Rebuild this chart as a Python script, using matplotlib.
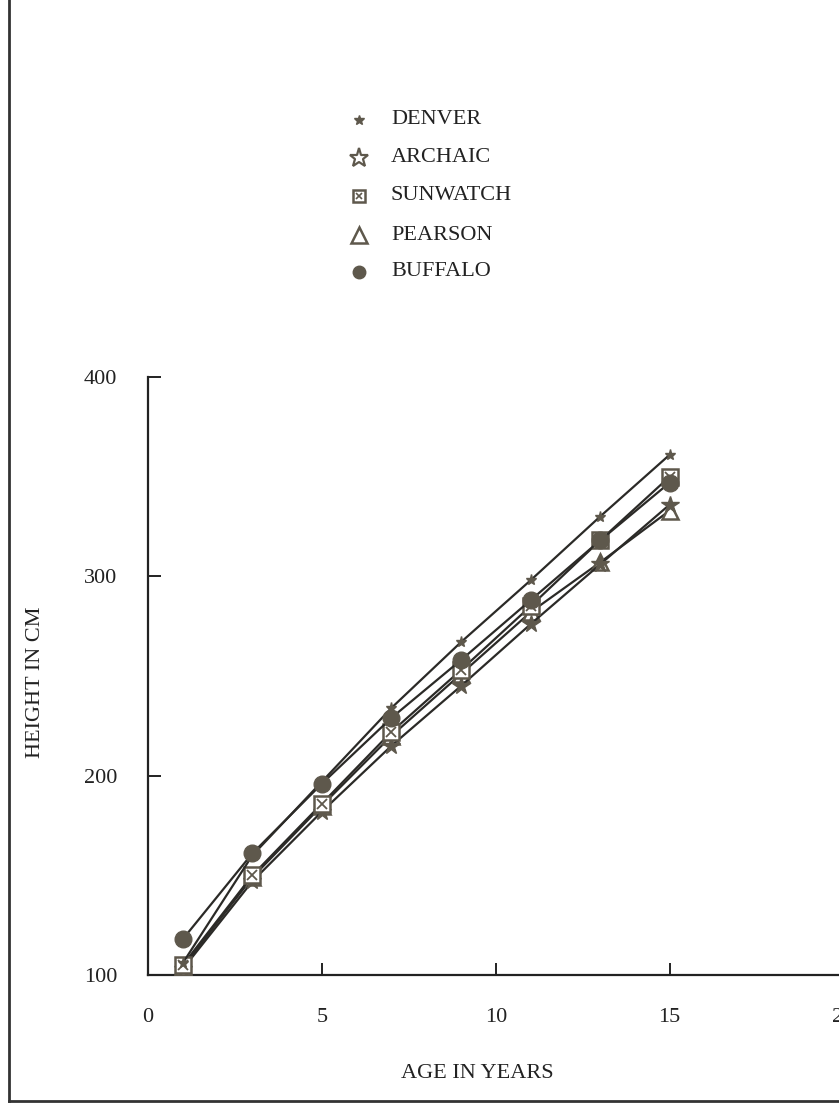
import matplotlib
matplotlib.use("Agg")
import matplotlib.pyplot as plt
from matplotlib.lines import Line2D

plt.rcParams['font.family'] = ['Liberation Serif', 'DejaVu Serif']

ages = [1, 3, 5, 7, 9, 11, 13, 15]
denver = [106, 160, 197, 234, 267, 298, 330, 361]
archaic = [103, 147, 182, 215, 245, 276, 306, 336]
sunwatch = [105, 150, 186, 222, 253, 285, 318, 350]
pearson = [104, 149, 185, 220, 251, 282, 307, 333]
buffalo = [118, 161, 196, 229, 258, 288, 318, 347]

series_names = ["DENVER", "ARCHAIC", "SUNWATCH", "PEARSON", "BUFFALO"]
xticks = [0, 5, 10, 15, 20]
yticks = [100, 200, 300, 400]

LINE = '#2b2a27'
MK = '#5e584c'
TXT = '#222222'

fig = plt.figure(figsize=(8.39, 11.03), dpi=100)
ax = fig.add_axes([0.1764, 0.1160, 0.829, 0.5422])

styles = {
    "DENVER": dict(marker='*', ms=8, mfc=MK, mec=MK, mew=1),
    "ARCHAIC": dict(marker='*', ms=13, mfc=MK, mec=MK, mew=1),
    "SUNWATCH": dict(marker='s', ms=11, mfc='white', mec=MK, mew=1.8),
    "PEARSON": dict(marker='^', ms=11, mfc='white', mec=MK, mew=1.8),
    "BUFFALO": dict(marker='o', ms=12, mfc=MK, mec=MK, mew=1),
}
data = {"DENVER": denver, "ARCHAIC": archaic, "SUNWATCH": sunwatch,
        "PEARSON": pearson, "BUFFALO": buffalo}

for name in ["PEARSON", "ARCHAIC", "SUNWATCH", "DENVER", "BUFFALO"]:
    ax.plot(ages, data[name], color=LINE, lw=1.6, **styles[name], zorder=3)
    if name == "SUNWATCH":
        ax.plot(ages, data[name], ls='none', marker='x', ms=7, mec=MK, mew=1.3, zorder=4)

ax.set_xlim(0, 20)
ax.set_ylim(100, 400)
ax.set_xticks(xticks)
ax.set_yticks(yticks)
for s in ['top', 'right']:
    ax.spines[s].set_visible(False)
for s in ['left', 'bottom']:
    ax.spines[s].set_linewidth(1.6)
    ax.spines[s].set_color(TXT)
ax.tick_params(axis='x', direction='in', length=9, width=1.4, pad=24, labelsize=16, colors=TXT)
ax.tick_params(axis='y', direction='in', length=9, width=1.4, pad=22, labelsize=16, colors=TXT)
ax.set_xlabel("AGE IN YEARS", fontsize=16, color=TXT)
ax.set_ylabel("HEIGHT IN CM", fontsize=16, color=TXT)
ax.xaxis.set_label_coords(0.473, -0.149)
ax.yaxis.set_label_coords(-0.148, 0.49)

# legend drawn manually in figure coordinates
W, H = 839, 1103
rows = [120, 158, 196, 235, 272]
for name, py in zip(series_names, rows):
    st = dict(styles[name])
    if name == "DENVER":
        st['ms'] = 7
    if name == "ARCHAIC":
        st['mfc'] = 'white'
        st['mew'] = 1.6
        st['ms'] = 14
    if name == "SUNWATCH":
        st['ms'] = 8
    if name == "BUFFALO":
        st['ms'] = 9
    fig.add_artist(Line2D([359 / W], [1 - py / H], transform=fig.transFigure,
                          ls='none', **st))
    if name == "SUNWATCH":
        fig.add_artist(Line2D([359 / W], [1 - py / H], transform=fig.transFigure,
                              ls='none', marker='x', ms=5, mec=MK, mew=1.2))
    fig.text(391 / W, 1 - py / H, name, fontsize=16, va='center', ha='left', color=TXT)

# page frame
fig.add_artist(Line2D([9 / W, 9 / W], [0.002, 1.0], transform=fig.transFigure, color='#333333', lw=2))
fig.add_artist(Line2D([9 / W, 1.0], [0.002, 0.002], transform=fig.transFigure, color='#333333', lw=2))

fig.savefig("out.png", dpi=100)
